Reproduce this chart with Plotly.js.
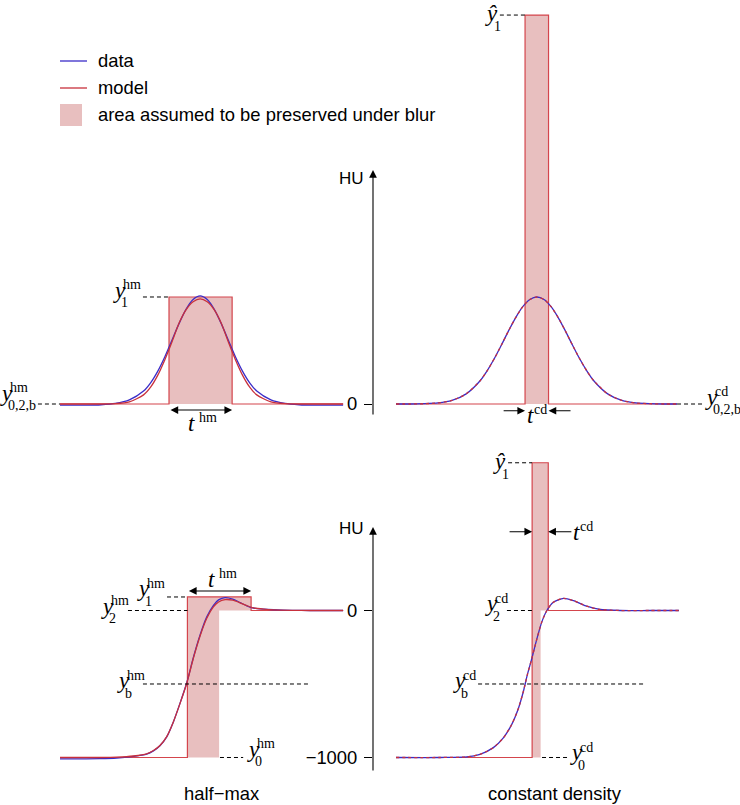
<!DOCTYPE html>
<html>
<head>
<meta charset="utf-8">
<script src="https://cdn.plot.ly/plotly-3.0.1.min.js"></script>
<style>
  html, body { margin: 0; padding: 0; background: #fff; }
  #chart { width: 740px; height: 805px; }
</style>
</head>
<body>
<div id="chart"></div>
<script>
// profile position in arbitrary units (0..10 per panel), values in HU

// --- top row: thin bright object ---
const hmPeakX = [0, 0.95, 1.45, 1.95, 2.45, 2.95, 3.2, 3.45, 3.7, 3.95, 4.2, 4.45, 4.7, 4.95,
                 5.2, 5.45, 5.7, 5.95, 6.2, 6.45, 6.7, 6.95, 7.45, 7.95, 8.45, 8.95, 10];
const hmPeakData = [-8, -8, -5, 4, 28, 88, 144, 222, 320, 432, 545, 644, 711, 735,
                    711, 644, 545, 432, 320, 222, 144, 88, 28, 4, -5, -8, -8];
const hmPeakModel = [0, 0, 0, 2, 14, 62, 115, 195, 300, 420, 548, 640, 695, 715,
                     695, 640, 548, 420, 300, 195, 115, 62, 14, 2, 0, 0, 0];
const hmPeakEdges = [3.85, 6.08];
const hmPeakTop = 728;

const cdPeakX = [0, 0.48, 0.98, 1.48, 1.98, 2.48, 2.98, 3.23, 3.48, 3.73, 3.98, 4.23, 4.48, 4.73, 4.98,
                 5.23, 5.48, 5.73, 5.98, 6.23, 6.48, 6.73, 6.98, 7.48, 7.98, 8.48, 8.98, 9.48, 9.93];
const cdPeakData = [0, 0, 2, 7, 24, 69, 160, 229, 311, 403, 499, 588, 662, 711, 728,
                    711, 662, 588, 499, 403, 311, 229, 160, 69, 24, 7, 2, 0, 0];
const cdPeakEdges = [4.56, 5.39];
const cdPeakTop = 2646;

// --- bottom row: edge between air (-1000) and tissue (0) with overshoot ---
const hmEdgeX = [0, 1.4, 2.0, 2.6, 3.06, 3.3, 3.53, 3.77, 4.0, 4.24, 4.48, 4.71, 4.95, 5.18,
                 5.42, 5.6, 5.83, 6.1, 6.36, 6.6, 6.83, 7.2, 7.54, 8.2, 8.83, 10];
const hmEdgeData = [-1010, -1008, -1004, -992, -977, -955, -920, -860, -760, -630, -490, -320, -165, -45,
                    35, 72, 88, 78, 54, 32, 17, 9, 5, 1, 0, 0];
const hmEdgeModel = [-1000, -1000, -998, -990, -975, -952, -918, -858, -760, -632, -493, -325, -172, -55,
                     25, 58, 74, 70, 52, 33, 18, 9, 4, 1, 0, 0];
const hmStepX = [4.5, 5.62, 6.75];   // step, end of lower band, end of upper band
const hmStepTop = 92;

const cdEdgeX = [0, 1.55, 2.5, 2.97, 3.44, 3.8, 4.09, 4.33, 4.5, 4.64, 4.8, 4.98, 5.15, 5.33,
                 5.56, 5.92, 6.27, 6.74, 7.21, 7.92, 8.98, 10];
const cdEdgeData = [-1000, -1000, -996, -978, -933, -865, -775, -663, -551, -438, -326, -191, -79, 0,
                    56, 83, 67, 29, 7, 0, 0, 0];
const cdStepX = [4.81, 5.11, 5.38];
const cdStepTop = 1005;

const yLow = -1000, yHigh = 0, yHalf = -500;

// dashed guide lines: [x from, x to, level]
const guidesTL = [[2.93, 3.85, hmPeakTop], [-0.78, 0, 0]];
const guidesTR = [[3.67, 4.56, cdPeakTop], [9.93, 10.85, 0]];
const guidesBL = [[3.78, 4.5, hmStepTop], [2.40, 4.5, yHigh], [2.93, 8.76, yHalf], [5.65, 6.47, yLow]];
const guidesBR = [[3.96, 4.81, cdStepTop], [3.92, 4.81, yHigh], [2.90, 8.73, yHalf], [5.16, 6.08, yLow]];

const BLUE = '#3a2cc8';
const RED = '#c8303c';
const EDGE = '#d4454c';
const PINK = '#e8bfbf';
const SANS = 'Liberation Sans, Arial, sans-serif';
const SERIF = 'Liberation Serif, Times New Roman, serif';

function curve(xa, ya, x, y, color, dash) {
    return {type: 'scatter', mode: 'lines', xaxis: xa, yaxis: ya, x: x, y: y,
            line: {color: color, width: 1.3, shape: 'spline', smoothing: 0.7, dash: dash || 'solid'},
            hoverinfo: 'skip'};
}

function stepTraces(xa, ya, left, notch, right, top, low, high, end) {
    const fill = {type: 'scatter', mode: 'lines', xaxis: xa, yaxis: ya,
        x: [left, notch, notch, right, right, left, left],
        y: [low, low, high, high, top, top, low],
        fill: 'toself', fillcolor: PINK, line: {width: 0}, hoverinfo: 'skip'};
    const outline = {type: 'scatter', mode: 'lines', xaxis: xa, yaxis: ya,
        x: [0, left, left, right, right, end],
        y: [low, low, top, top, high, high],
        line: {color: EDGE, width: 1.2}, hoverinfo: 'skip'};
    return [fill, outline];
}

function guides(xa, ya, list) {
    return list.map(g => ({type: 'scatter', mode: 'lines', xaxis: xa, yaxis: ya,
        x: [g[0], g[1]], y: [g[2], g[2]],
        line: {color: '#000', width: 1, dash: '4px,3px'}, hoverinfo: 'skip'}));
}

const traces = [].concat(
    stepTraces('x', 'y', hmPeakEdges[0], hmPeakEdges[1], hmPeakEdges[1], hmPeakTop, 0, 0, 10),
    [curve('x', 'y', hmPeakX, hmPeakData, BLUE), curve('x', 'y', hmPeakX, hmPeakModel, RED)],
    guides('x', 'y', guidesTL),

    stepTraces('x2', 'y2', cdPeakEdges[0], cdPeakEdges[1], cdPeakEdges[1], cdPeakTop, 0, 0, 9.93),
    [curve('x2', 'y2', cdPeakX, cdPeakData, BLUE), curve('x2', 'y2', cdPeakX, cdPeakData, RED, '3px,3px')],
    guides('x2', 'y2', guidesTR),

    stepTraces('x3', 'y3', hmStepX[0], hmStepX[1], hmStepX[2], hmStepTop, yLow, yHigh, 10),
    [curve('x3', 'y3', hmEdgeX, hmEdgeData, BLUE), curve('x3', 'y3', hmEdgeX, hmEdgeModel, RED)],
    guides('x3', 'y3', guidesBL),

    stepTraces('x4', 'y4', cdStepX[0], cdStepX[1], cdStepX[2], cdStepTop, yLow, yHigh, 10),
    [curve('x4', 'y4', cdEdgeX, cdEdgeData, BLUE), curve('x4', 'y4', cdEdgeX, cdEdgeData, RED, '3px,3px')],
    guides('x4', 'y4', guidesBR)
);

// stacked sub/superscript labels like y_1^hm
function mathLabel(xa, ya, x, y, base, sup, sub) {
    const common = {xref: xa, yref: ya, x: x, y: y, showarrow: false,
                    xanchor: 'left', yanchor: 'middle', borderpad: 0, borderwidth: 0};
    const isT = base === 't';
    const isHat = base === '\u0177';
    const out = [Object.assign({}, common, {
        text: '<i>' + base + '</i>', yshift: isT ? 1 : (isHat ? 2 : 4.5),
        font: {family: SERIF, size: 23, color: '#000'}})];
    if (sup) out.push(Object.assign({}, common, {
        text: sup, xshift: isT ? (sup === 'cd' ? 7 : 11) : 10, yshift: isT ? 7 : 10,
        font: {family: SERIF, size: 14, color: '#000'}}));
    if (sub) out.push(Object.assign({}, common, {
        text: sub, xshift: isHat ? 9 : 8, yshift: isHat ? -11 : -8,
        font: {family: SERIF, size: 14, color: '#000'}}));
    return out;
}

function arrow(xa, ya, xHead, xTail, level, both) {
    return {xref: xa, yref: ya, x: xHead, y: level, axref: xa, ayref: ya, ax: xTail, ay: level,
            text: '', showarrow: true, arrowhead: 2, arrowsize: 1.4, arrowwidth: 1.1,
            arrowcolor: '#000', arrowside: both ? 'end+start' : 'end', standoff: 0, startstandoff: 0};
}

function paperText(px, py, text, anchor, size) {
    return {xref: 'paper', yref: 'paper', x: px / 740, y: 1 - py / 805, text: text,
            showarrow: false, xanchor: anchor, yanchor: 'middle',
            font: {family: SANS, size: size || 18.4, color: '#000'}};
}

const annotations = [].concat(
    mathLabel('x', 'y', 1.87, 742, 'y', 'hm', '1'),
    mathLabel('x', 'y', -2.12, 41, 'y', 'hm', '0,2,b'),
    mathLabel('x', 'y', 4.52, -139, 't', 'hm', null),
    mathLabel('x2', 'y2', 3.14, 2646, '\u0177', null, '1'),
    mathLabel('x2', 'y2', 4.62, -85, 't', 'cd', null),
    mathLabel('x2', 'y2', 10.92, 17, 'y', 'cd', '0,2,b'),
    mathLabel('x3', 'y3', 5.23, 207, 't', 'hm', null),
    mathLabel('x3', 'y3', 2.72, 119, 'y', 'hm', '1'),
    mathLabel('x3', 'y3', 1.45, -3, 'y', 'hm', '2'),
    mathLabel('x3', 'y3', 2.01, -507, 'y', 'hm', 'b'),
    mathLabel('x3', 'y3', 6.61, -973, 'y', 'hm', '0'),
    mathLabel('x4', 'y4', 3.43, 1003, '\u0177', null, '1'),
    mathLabel('x4', 'y4', 6.25, 527, 't', 'cd', null),
    mathLabel('x4', 'y4', 3.14, 14, 'y', 'cd', '2'),
    mathLabel('x4', 'y4', 2.01, -507, 'y', 'cd', 'b'),
    mathLabel('x4', 'y4', 6.15, -1000, 'y', 'cd', '0'),
    [
        arrow('x', 'y', hmPeakEdges[1], hmPeakEdges[0], -41, true),
        arrow('x2', 'y2', cdPeakEdges[0], 3.75, -46, false),
        arrow('x2', 'y2', cdPeakEdges[1], 6.22, -46, false),
        arrow('x3', 'y3', hmStepX[2], hmStepX[0], 133, true),
        arrow('x4', 'y4', cdStepX[0], 3.96, 536, false),
        arrow('x4', 'y4', cdStepX[2], 6.25, 536, false),
        // HU axes
        {xref: 'paper', yref: 'paper', x: 373 / 740, y: 1 - 170 / 805, ax: 0, ay: 246,
         axref: 'pixel', ayref: 'pixel', text: '', showarrow: true, arrowhead: 2,
         arrowsize: 1.4, arrowwidth: 1.1, arrowcolor: '#000'},
        {xref: 'paper', yref: 'paper', x: 373 / 740, y: 1 - 527 / 805, ax: 0, ay: 245,
         axref: 'pixel', ayref: 'pixel', text: '', showarrow: true, arrowhead: 2,
         arrowsize: 1.4, arrowwidth: 1.1, arrowcolor: '#000'},
        paperText(366, 178, 'HU', 'right', 17),
        paperText(366, 528, 'HU', 'right', 17),
        paperText(221, 793, 'half\u2212max', 'center'),
        paperText(555, 793, 'constant density', 'center'),
        paperText(96, 60, 'data', 'left'),
        paperText(96, 87.5, 'model', 'left'),
        paperText(96, 115, 'area assumed to be preserved under blur', 'left')
    ]
);

const legendShapes = [
    {type: 'line', xref: 'paper', yref: 'paper', x0: 60 / 740, x1: 87 / 740,
     y0: 1 - 61 / 805, y1: 1 - 61 / 805, line: {color: BLUE, width: 1.3}},
    {type: 'line', xref: 'paper', yref: 'paper', x0: 60 / 740, x1: 87 / 740,
     y0: 1 - 88 / 805, y1: 1 - 88 / 805, line: {color: RED, width: 1.3}},
    {type: 'rect', xref: 'paper', yref: 'paper', x0: 60 / 740, x1: 82 / 740,
     y0: 1 - 126 / 805, y1: 1 - 104 / 805, fillcolor: PINK, line: {width: 0}}
];

const split = 365 / 805;   // boundary between rows
const hidden = {visible: false, fixedrange: true};
const leftX = Object.assign({domain: [0, 0.5], range: [-2.12, 10.95]}, hidden);
const rightX = Object.assign({domain: [373 / 740, 1], range: [-0.8127, 12.155]}, hidden);
const topRange = [-244.9, 2748.4];
const botRange = [-1323.2, 1159.9];
const huAxis = {showgrid: false, zeroline: false, showline: false, ticks: 'outside',
                ticklen: 8, tickwidth: 1, tickcolor: '#000', ticklabelstandoff: 3,
                tickfont: {family: SANS, size: 18.4, color: '#000'}, fixedrange: true};

const layout = {
    width: 740, height: 805,
    margin: {l: 0, r: 0, t: 0, b: 0},
    paper_bgcolor: '#fff', plot_bgcolor: 'rgba(0,0,0,0)',
    showlegend: false,
    xaxis: Object.assign({}, leftX, {anchor: 'y'}),
    yaxis: Object.assign({domain: [split, 1], range: topRange, anchor: 'x'}, hidden),
    xaxis2: Object.assign({}, rightX, {anchor: 'y2'}),
    yaxis2: Object.assign({domain: [split, 1], range: topRange, anchor: 'x2',
                           tickvals: [0], ticktext: ['0']}, huAxis),
    xaxis3: Object.assign({}, leftX, {anchor: 'y3'}),
    yaxis3: Object.assign({domain: [0, split], range: botRange, anchor: 'x3'}, hidden),
    xaxis4: Object.assign({}, rightX, {anchor: 'y4'}),
    yaxis4: Object.assign({domain: [0, split], range: botRange, anchor: 'x4',
                           tickvals: [0, -1000], ticktext: ['0', '\u22121000']}, huAxis),
    shapes: legendShapes,
    annotations: annotations
};

Plotly.newPlot('chart', traces, layout, {displayModeBar: false, staticPlot: true});
</script>
</body>
</html>
